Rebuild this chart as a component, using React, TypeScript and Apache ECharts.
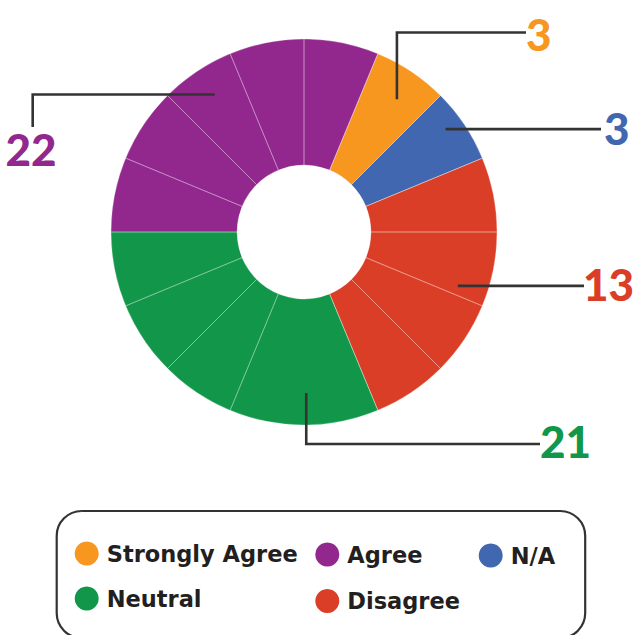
import React, { useEffect, useRef } from "react";
import * as echarts from "echarts";

// ---- data ----
const categories = ["Strongly Agree", "N/A", "Disagree", "Neutral", "Agree"];
const responseCounts = [3, 3, 13, 21, 22];
// angular units of the individual wedges of each category (decorative infographic)
const sliceUnits = [[1], [1], [1, 1, 1, 1], [2, 1, 1, 1], [1, 1, 1, 1, 1]];
const legendOrder = ["Strongly Agree", "Agree", "N/A", "Neutral", "Disagree"];

// ---- styles / layout ----
const COLORS: Record<string, string> = {
  "Strongly Agree": "#F7971F",
  "N/A": "#4267B1",
  Disagree: "#DB3E26",
  Neutral: "#11964A",
  Agree: "#92288D",
};
const FONT = 'Lato, "Noto Sans", sans-serif';
const LEGEND_FONT = '"DejaVu Sans", Lato, sans-serif';
const CX = 304;
const CY = 232;
const R_IN = 67;
const R_OUT = 193;
const START_FROM_TOP = 22.5; // degrees clockwise from 12 o'clock

type Leader = {
  dAngle: number;
  r: number;
  kind: "up" | "right" | "down" | "leftDown";
  turn: number; // y (up/down) or x (leftDown)
  end: number; // x end (up/right/down) or y end (leftDown)
  textX: number;
  textY: number;
  align: "left" | "right";
};
const leaderLayout: Record<string, Leader> = {
  "Strongly Agree": { dAngle: 1.25, r: 162, kind: "up", turn: 32.5, end: 526, textX: 526, textY: 33.5, align: "left" },
  "N/A": { dAngle: -2.25, r: 175, kind: "right", turn: 0, end: 601, textX: 604, textY: 128, align: "left" },
  Disagree: { dAngle: -3.2, r: 163, kind: "right", turn: 0, end: 584, textX: 634, textY: 283.5, align: "right" },
  Neutral: { dAngle: -0.8, r: 161, kind: "down", turn: 444, end: 540, textX: 540, textY: 441, align: "left" },
  Agree: { dAngle: 0.75, r: 164, kind: "leftDown", turn: 32.7, end: 127, textX: 5.5, textY: 149, align: "left" },
};
const legendLayout: Record<string, { cx: number; cy: number }> = {
  "Strongly Agree": { cx: 86.7, cy: 552.5 },
  Agree: { cx: 327.3, cy: 553.5 },
  "N/A": { cx: 490.7, cy: 554.5 },
  Neutral: { cx: 86.7, cy: 597.5 },
  Disagree: { cx: 327.3, cy: 600 },
};

function polar(deg: number, r: number): [number, number] {
  const a = (deg * Math.PI) / 180;
  return [CX + r * Math.sin(a), CY - r * Math.cos(a)];
}

export default function App() {
  const ref = useRef<HTMLDivElement>(null);

  useEffect(() => {
    if (!ref.current) return;
    const chart = echarts.init(ref.current, undefined, { renderer: "svg" });

    const totalUnits = sliceUnits.reduce((s, arr) => s + arr.reduce((a, b) => a + b, 0), 0);
    const degPerUnit = 360 / totalUnits;

    const categoryData = categories.map((name, i) => ({
      name,
      value: sliceUnits[i].reduce((a, b) => a + b, 0),
      itemStyle: { color: COLORS[name] },
    }));
    const wedgeData: { name: string; value: number }[] = [];
    categories.forEach((name, i) =>
      sliceUnits[i].forEach((u, j) => wedgeData.push({ name: `${name} ${j + 1}`, value: u }))
    );

    // leader lines + value labels, anchored on each category's wedges
    const graphics: any[] = [];
    let cum = 0;
    categories.forEach((name, i) => {
      const units = sliceUnits[i];
      const maxU = Math.max(...units);
      const uniqueMax = units.filter((u) => u === maxU).length === 1;
      let midUnits: number;
      const catTotal = units.reduce((a, b) => a + b, 0);
      if (uniqueMax) {
        const k = units.indexOf(maxU);
        const before = units.slice(0, k).reduce((a, b) => a + b, 0);
        midUnits = cum + before + maxU / 2;
      } else {
        midUnits = cum + catTotal / 2;
      }
      cum += catTotal;
      const L = leaderLayout[name];
      const angle = START_FROM_TOP + midUnits * degPerUnit + L.dAngle;
      const [ax, ay] = polar(angle, L.r);
      let pts: number[][];
      if (L.kind === "up" || L.kind === "down") pts = [[ax, ay], [ax, L.turn], [L.end, L.turn]];
      else if (L.kind === "right") pts = [[ax, ay], [L.end, ay]];
      else pts = [[ax, ay], [L.turn, ay], [L.turn, L.end]];
      graphics.push({
        type: "polyline",
        z: 100,
        silent: true,
        shape: { points: pts },
        style: { stroke: "#333333", lineWidth: 2.6, fill: null },
      });
      graphics.push({
        type: "text",
        z: 100,
        silent: true,
        x: L.textX,
        y: L.textY,
        style: {
          text: String(responseCounts[i]),
          fill: COLORS[name],
          font: `900 44px ${FONT}`,
          textAlign: L.align,
          textVerticalAlign: "middle",
        },
      });
    });

    graphics.push({
      type: "rect",
      z: 50,
      silent: true,
      shape: { x: 56.7, y: 511, width: 528.5, height: 127, r: 25 },
      style: { fill: "none", stroke: "#333333", lineWidth: 2.2 },
    });

    const legends = legendOrder.map((name) => {
      const p = legendLayout[name];
      return {
        data: [name],
        left: p.cx - 12,
        top: p.cy - 12,
        padding: 0,
        icon: "circle",
        itemWidth: 24,
        itemHeight: 24,
        selectedMode: false,
        textStyle: {
          fontFamily: LEGEND_FONT,
          fontWeight: "bold",
          fontSize: 22.5,
          lineHeight: 24,
          color: "#231F20",
          padding: [2, 0, 0, 3],
        },
      };
    });

    chart.setOption({
      animation: false,
      legend: legends,
      graphic: graphics,
      series: [
        {
          type: "pie",
          center: [CX, CY],
          radius: [R_IN, R_OUT],
          startAngle: 90 - START_FROM_TOP,
          clockwise: true,
          label: { show: false },
          labelLine: { show: false },
          emphasis: { disabled: true },
          itemStyle: { borderWidth: 0 },
          data: categoryData,
        },
        {
          type: "pie",
          center: [CX, CY],
          radius: [R_IN, R_OUT],
          startAngle: 90 - START_FROM_TOP,
          clockwise: true,
          silent: true,
          label: { show: false },
          labelLine: { show: false },
          emphasis: { disabled: true },
          itemStyle: {
            color: "rgba(0,0,0,0)",
            borderColor: "rgba(255,255,255,0.4)",
            borderWidth: 0.7,
          },
          data: wedgeData,
        },
      ],
    });

    return () => chart.dispose();
  }, []);

  return (
    <div
      ref={ref}
      style={{ position: "absolute", left: 0, top: 0, width: 633, height: 635, background: "#fff" }}
    />
  );
}
